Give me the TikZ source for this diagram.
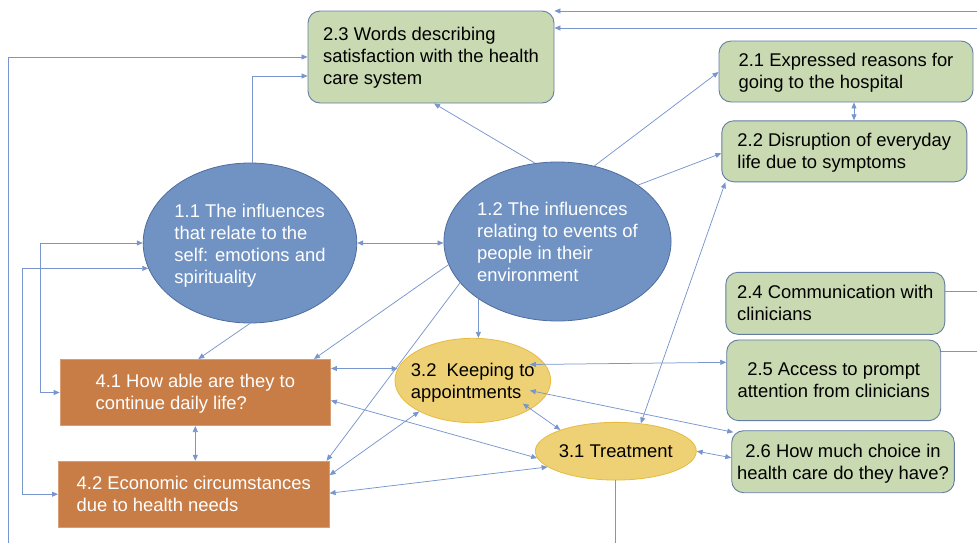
\documentclass[tikz,border=0pt]{standalone}
\usepackage{fontspec}
\setmainfont{Liberation Sans}
\usetikzlibrary{shapes.geometric,arrows.meta,calc}
\definecolor{bfill}{RGB}{112,147,196}
\definecolor{bbord}{RGB}{78,108,158}
\definecolor{gfill}{RGB}{201,217,177}
\definecolor{gbord}{RGB}{100,125,165}
\definecolor{ofill}{RGB}{201,125,70}
\definecolor{yfill}{RGB}{237,209,116}
\definecolor{ybord}{RGB}{232,186,64}
\definecolor{acol}{RGB}{120,150,205}
% invisible struts that fix the vertical position of the text in a node
\newcommand\firstl[1]{\rule{0pt}{#1pt}}
\newcommand\lastl{\rule[-10pt]{0pt}{10pt}}
\begin{document}
\begin{tikzpicture}[x=1pt,y=-1pt,
  font=\fontsize{18.4}{22}\selectfont,
  >={Triangle[length=6pt,width=5pt]},
  greenbox/.style={rectangle, rounded corners=12pt, draw=gbord, fill=gfill, line width=0.9pt, inner sep=0pt, align=left, text=black},
  blueell/.style={ellipse, draw=bbord, fill=bfill, line width=0.8pt, inner sep=0pt, align=left, text=white},
  yellell/.style={ellipse, draw=ybord, fill=yfill, line width=0.8pt, inner sep=0pt, align=left, text=black},
  orangebox/.style={rectangle, draw=ofill!75!white, fill=ofill, line width=0.6pt, inner sep=0pt, align=left, text=white},
  conn/.style={draw=acol, line width=0.75pt}]
\useasboundingbox (0,0) rectangle (977,542);
\clip (0,0) rectangle (977,542);

% nodes
\node[greenbox, minimum width=246pt, minimum height=92pt] (n23) at (431,57) {\firstl{21.4}2.3 Words describing\\satisfaction with the health\\care system\lastl};
\node[greenbox, minimum width=254pt, minimum height=61pt] (n21) at (846,71.5) {\firstl{21}2.1 Expressed reasons for\\going to the hospital\lastl};
\node[greenbox, minimum width=245pt, minimum height=61pt] (n22) at (844.3,151.3) {\firstl{22.8}2.2 Disruption of everyday\\life due to symptoms\lastl};
\node[greenbox, minimum width=219pt, minimum height=62pt] (n24) at (835.3,303.3) {\firstl{22}2.4 Communication with\\clinicians\lastl};
\node[greenbox, minimum width=214pt, minimum height=80.7pt, align=center] (n25) at (833.7,380.3) {\firstl{22.8}2.5 Access to prompt\\attention from clinicians\lastl};
\node[greenbox, minimum width=222.6pt, minimum height=62pt, align=center] (n26) at (843,461.7) {\firstl{23.2}2.6 How much choice in\\health care do they have?\lastl};

\node[blueell, minimum width=212pt, minimum height=160pt] (n11) at (250,243) {\firstl{25.4}1.1 The influences\\that relate to the\\self: emotions and\\spirituality\lastl};
\node[blueell, minimum width=227pt, minimum height=159pt] (n12) at (557.5,241.5) {\firstl{23}1.2 The influences\\relating to events of\\people in their\\environment\lastl};

\node[yellell, minimum width=155.7pt, minimum height=84.4pt, inner xsep=-15pt] (n32) at (472.8,380.5) {\firstl{24.4}3.2\ \ Keeping to\\appointments\lastl};
\node[yellell, minimum width=157pt, minimum height=57.7pt] (n31) at (615.8,451.2) {\firstl{22.2}3.1 Treatment\lastl};

\node[orangebox, minimum width=270.7pt, minimum height=66.4pt] (n41) at (195.3,392.5) {\firstl{21}4.1 How able are they to\\continue daily life?\lastl};
\node[orangebox, minimum width=271pt, minimum height=66.3pt] (n42) at (193.8,494.2) {\firstl{22.2}4.2 Economic circumstances\\due to health needs\lastl};

% free ends outside the frame
\coordinate (tr1) at (1000,11);
\coordinate (tr2) at (990,28);
\coordinate (bl) at (8,570);

% connectors
\draw[conn,->] ([yshift=12pt]n24.east) -| (tr1) -- (tr1 -| n23.east);
\draw[conn,->] ([yshift=29pt]n25.east) -| (tr2) -- (tr2 -| n23.east);
\draw[conn,->] (n31.south) |- (bl) |- (n23.west);
\draw[conn,->] ([xshift=2pt]n11.north) |- ([yshift=-19pt]n23.west);

\draw[conn,->] (n12.106) -- ([xshift=3pt]n23.south);
\draw[conn,->] (n12.64) -- ([yshift=-0.5pt]n21.west);
\draw[conn,->] (n12.35) -- ([yshift=-2pt]n22.west);
\draw[conn,<->] ([xshift=8pt]n21.south) -- ([xshift=8pt]n21.south |- n22.north);

\draw[conn,<->] (n11.east) -- (n11.east -| n12.west);
\draw[conn,->] (n11.south) -- ([xshift=3pt]n41.north);
\draw[conn,->] (n12.192) -- ([xshift=-17pt]n41.north east);
\draw[conn,->] (n12.203) -- ([xshift=-3pt]n42.north east);
\draw[conn,->] (n12.216) -- (n12.216 |- n32.north);

\draw[conn,<->] (n11.west) -- ([xshift=-19pt]n41.west |- n11.west) |- (n41.west);
\draw[conn,<->] (n11.194) -- ([xshift=-36pt]n42.west |- n11.194) |- (n42.west);

\draw[conn,<->] (n41.south) -- (n41.south |- n42.north);
\draw[conn,<->] ([yshift=24pt]n41.east) -- (n32.171);
\draw[conn,<->] ([yshift=-8pt]n41.east) -- (n31.185);
\draw[conn,<->] ([yshift=19pt]n42.east) -- (n32.210);
\draw[conn,<->] ([yshift=1pt]n42.east) -- (n31.193);

\draw[conn,<->] ([shift={(57pt,16pt)}]n32.center) -- ([yshift=18pt]n25.west);
\draw[conn,<->] ([shift={(57pt,-10pt)}]n32.center) -- ([shift={(2pt,-2pt)}]n26.north west);
\draw[conn,<->] ([shift={(50pt,-23pt)}]n32.center) -- (n31.159);
\draw[conn,<->] (n31.48) -- ([xshift=4pt]n22.south west);
\draw[conn,<->] (n31.east) -- ([yshift=4pt]n26.west);
\end{tikzpicture}
\end{document}
